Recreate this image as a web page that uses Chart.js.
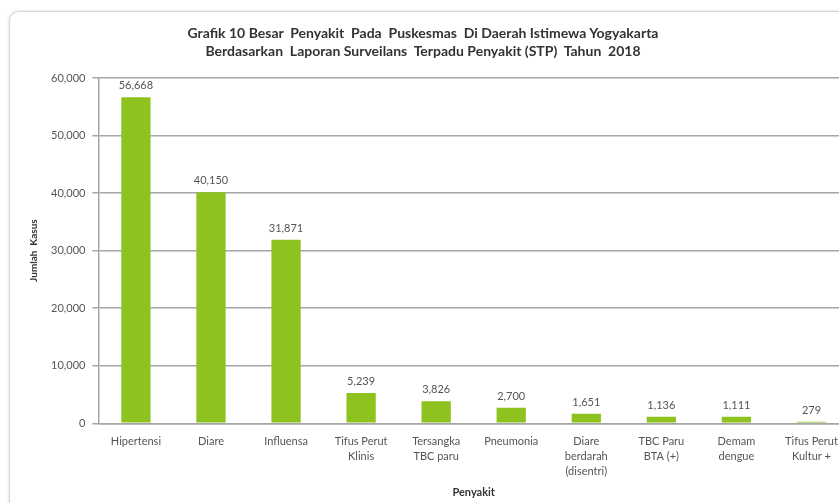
<!DOCTYPE html>
<html>
<head>
<meta charset="utf-8">
<script src="https://cdn.jsdelivr.net/npm/chart.js@4.4.1/dist/chart.umd.min.js"></script>
<style>
    html, body {
        margin: 0;
        padding: 0;
        background: #ffffff;
        overflow: hidden;
        width: 839px;
        height: 503px;
    }
    .chart-frame {
        position: absolute;
        left: 9px;
        top: 11px;
        width: 900px;
        height: 540px;
        border: 1px solid #d6d6d6;
        border-radius: 10px;
        box-shadow: -1px -1px 2px rgba(0, 0, 0, 0.08);
    }
    .chart-title {
        position: absolute;
        left: 123px;
        width: 600px;
        top: 24px;
        text-align: center;
        font-family: Lato, "Open Sans", sans-serif;
        font-weight: bold;
        font-size: 14px;
        line-height: 18px;
        color: #333333;
        white-space: pre;
    }
    #chart-penyakit {
        position: absolute;
        left: 0;
        top: 0;
    }
</style>
</head>
<body>
<div class="chart-frame"></div>
<canvas id="chart-penyakit" width="870" height="503"></canvas>
<div class="chart-title" id="chart-title"></div>
<script>
const categories = [
    ['Hipertensi'],
    ['Diare'],
    ['Influensa'],
    ['Tifus Perut', 'Klinis'],
    ['Tersangka', 'TBC paru'],
    ['Pneumonia'],
    ['Diare', 'berdarah', '(disentri)'],
    ['TBC Paru', 'BTA (+)'],
    ['Demam', 'dengue'],
    ['Tifus Perut', 'Kultur +']
];
const jumlahKasus = [56668, 40150, 31871, 5239, 3826, 2700, 1651, 1136, 1111, 279];
const yTicks = [0, 10000, 20000, 30000, 40000, 50000, 60000];

const titleLines = [
    'Grafik 10 Besar  Penyakit  Pada  Puskesmas  Di Daerah Istimewa Yogyakarta',
    'Berdasarkan  Laporan Surveilans  Terpadu Penyakit (STP)  Tahun  2018'
];

const FONT = 'Lato, "Open Sans", sans-serif';

document.getElementById('chart-title').textContent = titleLines.join('\n');

function formatNumber(value) {
    return new Intl.NumberFormat('en-US').format(value);
}

// etiquetas de valor encima de cada barra
const valueLabels = {
    id: 'valueLabels',
    afterDatasetsDraw(chart) {
        const ctx = chart.ctx;
        const meta = chart.getDatasetMeta(0);
        ctx.save();
        ctx.font = '11px ' + FONT;
        ctx.fillStyle = '#555555';
        ctx.textAlign = 'center';
        ctx.textBaseline = 'bottom';
        meta.data.forEach((bar, i) => {
            ctx.fillText(formatNumber(jumlahKasus[i]), bar.x, bar.y - 6);
        });
        ctx.restore();
    }
};

const ctx = document.getElementById('chart-penyakit').getContext('2d');
new Chart(ctx, {
    type: 'bar',
    data: {
        labels: categories,
        datasets: [{
            data: jumlahKasus,
            backgroundColor: '#8dc21f',
            borderWidth: 0,
            barPercentage: 0.39,
            categoryPercentage: 1
        }]
    },
    options: {
        responsive: false,
        animation: false,
        layout: {
            padding: { top: 78, right: 21, left: 28, bottom: 4 }
        },
        plugins: {
            legend: { display: false },
            tooltip: { enabled: false },
            title: { display: false }
        },
        scales: {
            x: {
                grid: { display: false, drawTicks: false },
                border: { display: true, color: '#a6a6a6', width: 1.5 },
                ticks: {
                    color: '#555555',
                    font: { family: FONT, size: 11, lineHeight: 1.35 },
                    padding: 11,
                    maxRotation: 0,
                    autoSkip: false
                },
                title: {
                    display: true,
                    text: 'Penyakit',
                    color: '#333333',
                    font: { family: FONT, size: 11, weight: 'bold' },
                    padding: { top: -4, bottom: 0 }
                }
            },
            y: {
                min: 0,
                max: 60000,
                afterBuildTicks(scale) {
                    scale.ticks = yTicks.map(v => ({ value: v }));
                },
                grid: {
                    color: '#a6a6a6',
                    lineWidth: 1.5,
                    drawTicks: true,
                    tickLength: 6
                },
                border: { display: true, color: '#a6a6a6', width: 1.5 },
                ticks: {
                    color: '#555555',
                    font: { family: FONT, size: 11 },
                    padding: 7,
                    callback: value => formatNumber(value)
                },
                title: {
                    display: true,
                    text: 'Jumlah  Kasus',
                    color: '#333333',
                    font: { family: FONT, size: 10, weight: 'bold' },
                    padding: { top: 0, bottom: 4 }
                }
            }
        }
    },
    plugins: [valueLabels]
});
</script>
</body>
</html>
